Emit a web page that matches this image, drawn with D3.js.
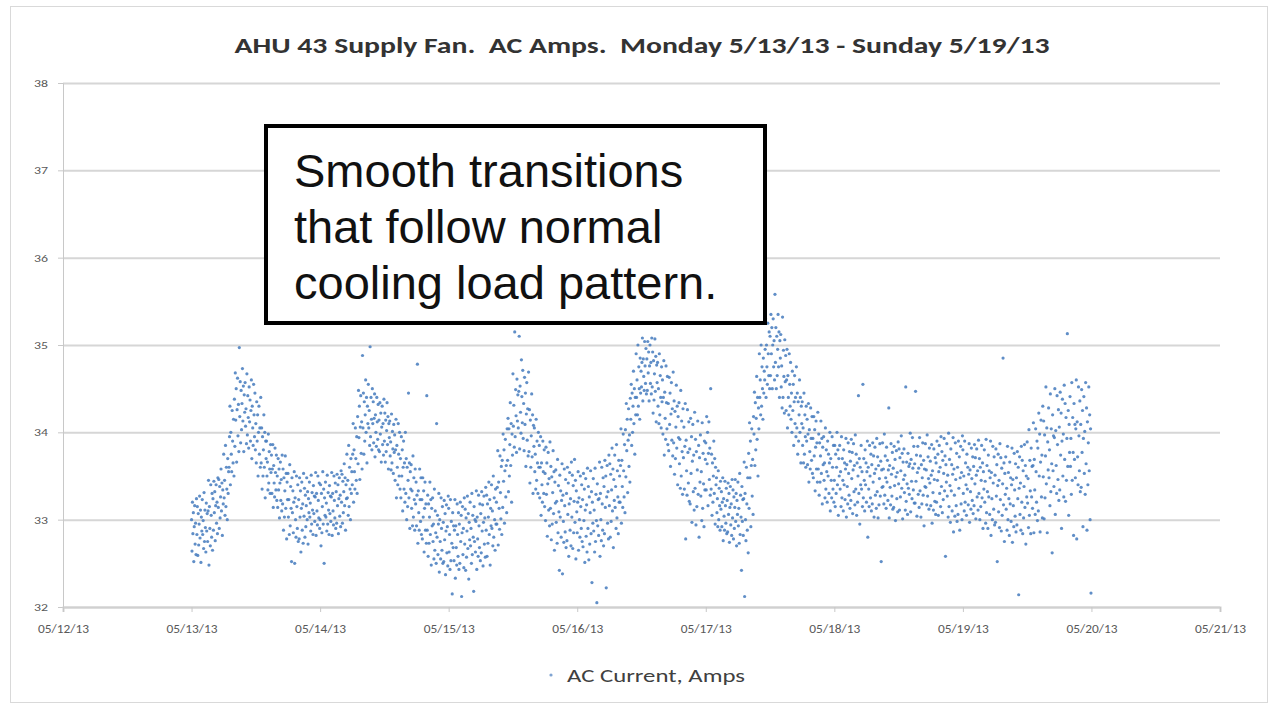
<!DOCTYPE html>
<html>
<head>
<meta charset="utf-8">
<script src="https://cdn.jsdelivr.net/npm/d3@7"></script>
<style>
  body { margin: 0; background: #fff; }
</style>
</head>
<body>
<div id="chart"></div>
<script>
// AC amps, one reading every 5 minutes, one row = one hour
const monday = [
  33.00, 32.64, 33.20, 32.84, 33.08, 32.52, 32.92, 33.16, 32.72, 32.96, 32.60, 33.24,
  32.83, 33.15, 32.59, 33.07, 32.71, 32.95, 33.27, 32.79, 33.11, 32.51, 33.03, 32.87,
  33.23, 32.83, 32.99, 32.67, 33.31, 32.75, 33.11, 32.91, 32.63, 33.19, 32.87, 33.07,
  32.75, 33.10, 33.45, 32.48, 33.15, 32.90, 32.70, 33.40, 33.05, 32.80, 33.30, 32.65,
  33.24, 32.88, 33.44, 33.08, 33.32, 32.76, 33.16, 33.40, 32.96, 33.20, 32.84, 33.48,
  33.14, 33.46, 32.90, 33.38, 33.02, 33.26, 33.58, 33.10, 33.42, 32.82, 33.34, 33.18,
  33.75, 33.25, 33.45, 33.05, 33.85, 33.15, 33.60, 33.35, 33.00, 33.70, 33.30, 33.55,
  33.60, 33.95, 34.30, 33.40, 34.00, 33.75, 33.55, 34.25, 33.90, 33.65, 34.15, 33.50,
  34.38, 33.84, 34.68, 34.14, 34.50, 33.66, 34.26, 34.62, 33.96, 34.32, 33.78, 34.97,
  34.18, 34.58, 33.88, 34.48, 34.03, 34.33, 34.73, 34.13, 34.53, 33.78, 34.43, 34.23,
  34.57, 34.07, 34.27, 33.87, 34.67, 33.97, 34.42, 34.17, 33.82, 34.52, 34.12, 34.37,
  33.90, 34.25, 34.60, 33.70, 34.30, 34.05, 33.85, 34.55, 34.20, 33.95, 34.45, 33.80,
  34.10, 33.65, 34.35, 33.90, 34.20, 33.50, 34.00, 34.30, 33.75, 34.05, 33.60, 34.40,
  33.65, 34.05, 33.35, 33.95, 33.50, 33.80, 34.20, 33.60, 34.00, 33.25, 33.90, 33.70,
  33.90, 33.50, 33.66, 33.34, 33.98, 33.42, 33.78, 33.58, 33.30, 33.86, 33.54, 33.74,
  33.30, 33.58, 33.86, 33.14, 33.62, 33.42, 33.26, 33.82, 33.54, 33.34, 33.74, 33.22,
  33.50, 33.14, 33.70, 33.34, 33.58, 33.02, 33.42, 33.66, 33.22, 33.46, 33.10, 33.74,
  33.18, 33.58, 32.88, 33.48, 33.03, 33.33, 33.73, 33.13, 33.53, 32.78, 33.43, 33.23,
  33.53, 33.03, 33.23, 32.83, 33.63, 32.93, 33.38, 33.13, 32.52, 33.48, 33.08, 33.33,
  32.85, 33.20, 33.55, 32.50, 33.25, 33.00, 32.80, 33.50, 33.15, 32.90, 33.40, 32.75,
  33.23, 32.78, 33.48, 33.03, 33.33, 32.63, 33.13, 33.43, 32.88, 33.18, 32.73, 33.53,
  33.04, 33.36, 32.80, 33.28, 32.92, 33.16, 33.48, 33.00, 33.32, 32.72, 33.24, 33.08,
  33.43, 33.03, 33.19, 32.87, 33.51, 32.95, 33.31, 33.11, 32.83, 33.39, 33.07, 33.27,
  32.98, 33.26, 33.54, 32.82, 33.30, 33.10, 32.94, 33.50, 33.22, 33.02, 33.42, 32.90
];
const tuesday = [
  33.00, 33.40, 32.70, 33.30, 32.85, 33.15, 33.55, 32.95, 33.35, 32.50, 33.25, 33.05,
  33.43, 33.03, 33.19, 32.87, 33.51, 32.95, 33.31, 33.11, 32.83, 33.39, 33.07, 33.27,
  32.98, 33.26, 33.54, 32.82, 33.30, 33.10, 32.94, 33.50, 33.22, 33.02, 33.42, 32.90,
  33.32, 32.96, 33.52, 33.16, 33.40, 32.84, 33.24, 33.48, 33.04, 33.28, 32.92, 33.56,
  33.20, 33.52, 32.96, 33.44, 33.08, 33.32, 33.64, 33.16, 33.48, 32.88, 33.40, 33.24,
  33.75, 33.25, 33.45, 33.05, 33.85, 33.15, 33.60, 33.35, 33.00, 33.70, 33.30, 33.55,
  33.40, 33.75, 34.10, 33.20, 33.80, 33.55, 33.35, 34.05, 33.70, 33.45, 33.95, 33.30,
  34.18, 33.64, 34.48, 33.94, 34.30, 33.46, 34.06, 34.42, 33.76, 34.12, 33.58, 34.88,
  34.05, 34.45, 33.75, 34.35, 33.90, 34.20, 34.60, 34.00, 34.40, 33.65, 34.30, 34.10,
  34.55, 34.05, 34.25, 33.85, 34.98, 33.95, 34.40, 34.15, 33.80, 34.50, 34.10, 34.35,
  33.88, 34.16, 34.44, 33.72, 34.20, 34.00, 33.84, 34.40, 34.12, 33.92, 34.32, 33.80,
  34.14, 33.78, 34.34, 33.98, 34.22, 33.66, 34.06, 34.30, 33.86, 34.10, 33.74, 34.38,
  33.90, 34.22, 33.66, 34.14, 33.78, 34.02, 34.34, 33.86, 34.18, 33.58, 34.10, 33.94,
  34.13, 33.73, 33.89, 33.57, 34.21, 33.65, 34.01, 33.81, 33.53, 34.09, 33.77, 33.97,
  33.45, 33.80, 34.15, 33.25, 33.85, 33.60, 33.40, 34.10, 33.75, 33.50, 34.00, 33.35,
  33.70, 33.25, 33.95, 33.50, 33.80, 33.10, 33.60, 33.90, 33.35, 33.65, 33.20, 34.00,
  33.30, 33.70, 33.00, 33.60, 33.15, 33.45, 34.45, 33.25, 33.65, 32.90, 33.55, 33.35,
  33.63, 33.13, 33.33, 32.93, 33.73, 33.03, 33.48, 33.23, 32.88, 33.58, 33.18, 33.43,
  32.93, 33.28, 34.78, 32.73, 33.33, 33.08, 32.88, 33.58, 33.23, 32.98, 33.48, 32.83,
  33.23, 32.78, 33.48, 33.03, 33.33, 32.63, 33.13, 33.43, 32.88, 33.18, 32.73, 34.42,
  32.88, 33.28, 32.58, 33.18, 32.73, 33.03, 33.43, 32.83, 33.23, 32.48, 33.13, 32.93,
  33.25, 32.75, 32.95, 32.55, 33.35, 32.65, 33.10, 32.85, 32.50, 34.10, 32.80, 33.05,
  32.60, 32.95, 33.30, 32.40, 33.00, 32.75, 32.55, 33.25, 32.90, 32.65, 33.15, 32.50,
  32.97, 32.52, 33.22, 32.77, 33.07, 32.37, 32.87, 33.17, 32.62, 32.92, 32.47, 33.27
];
const wednesday = [
  33.13, 32.63, 32.83, 32.43, 33.23, 32.53, 32.98, 32.73, 32.15, 33.08, 32.68, 32.93,
  32.53, 32.88, 33.23, 32.33, 32.93, 32.68, 32.48, 33.18, 32.83, 32.58, 33.08, 32.43,
  32.95, 32.50, 33.20, 32.75, 33.05, 32.12, 32.85, 33.15, 32.60, 32.90, 32.45, 33.25,
  32.72, 33.12, 32.42, 33.02, 32.57, 32.87, 33.27, 32.67, 33.07, 32.32, 32.97, 32.77,
  33.20, 32.70, 32.90, 32.50, 33.30, 32.60, 33.05, 32.80, 32.18, 33.15, 32.75, 33.00,
  32.63, 32.98, 33.33, 32.43, 33.03, 32.78, 32.58, 33.28, 32.93, 32.68, 33.18, 32.53,
  33.07, 32.62, 33.32, 32.87, 33.17, 32.47, 32.97, 33.27, 32.72, 33.02, 32.57, 33.37,
  32.88, 33.28, 32.58, 33.18, 32.73, 33.03, 33.43, 32.83, 33.23, 32.48, 33.13, 32.93,
  33.40, 32.90, 33.10, 32.70, 33.50, 32.80, 33.25, 33.00, 32.65, 33.35, 32.95, 33.20,
  32.95, 33.37, 33.79, 32.71, 33.43, 33.13, 32.89, 33.73, 33.31, 33.01, 33.61, 32.83,
  33.68, 33.14, 33.98, 33.44, 33.80, 32.96, 33.56, 33.92, 33.26, 33.62, 33.08, 34.04,
  33.68, 34.16, 33.32, 34.04, 33.50, 33.86, 34.34, 33.62, 34.10, 33.20, 33.98, 33.74,
  34.67, 34.07, 34.31, 33.83, 35.15, 33.95, 34.49, 34.19, 33.77, 34.61, 34.13, 34.43,
  34.05, 34.47, 35.10, 33.81, 34.53, 34.23, 33.99, 34.83, 34.41, 34.11, 34.71, 33.93,
  34.33, 33.79, 34.63, 34.09, 34.45, 33.61, 34.21, 34.57, 33.91, 34.27, 33.73, 34.69,
  33.78, 34.26, 33.42, 34.14, 33.60, 33.96, 34.44, 33.72, 34.20, 33.30, 34.08, 33.84,
  34.05, 33.55, 33.75, 33.35, 34.15, 33.45, 33.90, 33.65, 33.30, 34.00, 33.60, 33.85,
  33.25, 33.60, 33.95, 33.05, 33.65, 33.40, 33.20, 33.90, 33.55, 33.30, 33.80, 33.15,
  33.53, 32.99, 33.83, 33.29, 33.65, 32.81, 33.41, 33.77, 33.11, 33.47, 32.93, 33.89,
  33.13, 33.61, 32.77, 33.49, 32.95, 33.31, 33.79, 33.07, 33.55, 32.65, 33.43, 33.19,
  33.57, 32.97, 33.21, 32.73, 33.69, 32.85, 33.39, 33.09, 32.42, 33.51, 33.03, 33.33,
  32.80, 33.22, 33.64, 32.38, 33.28, 32.98, 32.74, 33.58, 33.16, 32.86, 33.46, 32.68,
  33.30, 32.76, 33.60, 33.06, 33.42, 32.58, 33.18, 33.54, 32.88, 33.24, 32.70, 33.66,
  33.03, 33.51, 32.67, 33.39, 32.85, 33.21, 33.69, 32.97, 33.45, 32.55, 33.33, 33.09
];
const thursday = [
  32.85, 33.20, 33.55, 32.65, 33.25, 33.00, 32.80, 33.50, 33.15, 32.90, 33.40, 32.75,
  33.23, 32.69, 33.53, 32.99, 33.35, 32.51, 33.11, 33.47, 32.81, 33.17, 32.63, 33.59,
  32.90, 33.38, 32.54, 33.26, 32.72, 33.08, 33.56, 32.84, 33.32, 32.28, 33.20, 32.96,
  33.47, 32.87, 33.11, 32.63, 33.59, 32.75, 33.29, 32.99, 32.05, 33.41, 32.93, 33.23,
  32.82, 33.24, 33.66, 32.58, 33.30, 33.00, 32.76, 33.60, 33.18, 32.88, 33.48, 32.70,
  33.38, 32.84, 33.68, 33.14, 33.50, 32.22, 33.26, 33.62, 32.96, 33.32, 32.78, 33.74,
  33.16, 33.64, 32.80, 33.52, 32.98, 33.34, 33.82, 33.10, 33.58, 32.68, 33.46, 33.22,
  33.74, 33.14, 33.38, 32.90, 33.86, 33.02, 33.56, 33.26, 32.84, 33.68, 33.20, 33.50,
  33.20, 33.62, 34.04, 32.96, 33.68, 33.38, 33.14, 33.98, 33.56, 33.26, 33.86, 33.08,
  34.03, 33.49, 34.33, 33.79, 34.15, 33.31, 33.91, 34.27, 33.61, 33.97, 33.43, 34.39,
  34.15, 34.55, 33.85, 34.45, 34.00, 34.30, 34.70, 34.10, 34.50, 33.75, 34.40, 34.20,
  34.90, 34.40, 34.60, 34.20, 35.00, 34.30, 34.75, 34.50, 34.15, 34.85, 34.45, 34.70,
  34.52, 34.80, 35.08, 34.36, 34.84, 34.64, 34.48, 35.04, 34.76, 34.56, 34.96, 34.44,
  34.84, 34.48, 35.04, 34.68, 34.92, 34.36, 34.76, 35.00, 34.56, 34.80, 34.44, 35.08,
  34.52, 34.92, 34.22, 34.82, 34.37, 34.67, 35.07, 34.47, 34.87, 34.12, 34.77, 34.57,
  34.80, 34.30, 34.50, 34.10, 34.90, 34.20, 34.65, 34.40, 34.05, 34.75, 34.35, 34.60,
  33.98, 34.40, 34.82, 33.74, 34.46, 34.16, 33.92, 34.76, 34.34, 34.04, 34.64, 33.86,
  34.33, 33.79, 34.63, 34.09, 34.45, 33.61, 34.21, 34.57, 33.91, 34.27, 33.73, 34.69,
  33.88, 34.36, 33.52, 34.24, 33.70, 34.06, 34.54, 33.82, 34.30, 33.40, 34.18, 33.94,
  34.34, 33.64, 33.92, 33.36, 34.48, 33.50, 34.13, 33.78, 33.29, 34.27, 33.71, 34.06,
  33.35, 33.84, 34.33, 32.78, 33.91, 33.56, 33.28, 34.26, 33.77, 33.42, 34.12, 33.21,
  33.81, 33.18, 34.16, 33.53, 33.95, 32.97, 33.67, 34.09, 33.32, 33.74, 33.11, 34.23,
  33.36, 33.92, 32.94, 33.78, 33.15, 33.57, 34.13, 33.29, 33.85, 32.80, 33.71, 33.43,
  33.97, 33.27, 33.55, 32.99, 34.11, 33.13, 33.76, 33.41, 32.92, 33.90, 33.34, 33.69
];
const friday = [
  33.88, 33.34, 34.18, 33.64, 34.00, 33.16, 33.76, 34.12, 33.46, 33.82, 33.28, 34.50,
  33.35, 33.75, 33.05, 33.65, 33.20, 33.50, 33.90, 33.30, 33.70, 32.95, 33.60, 33.40,
  33.48, 33.08, 33.24, 32.92, 33.56, 33.00, 33.36, 33.16, 32.88, 33.44, 33.12, 33.32,
  32.92, 33.20, 33.48, 32.76, 33.24, 33.04, 32.88, 33.44, 33.16, 32.96, 33.36, 32.84,
  33.22, 32.86, 33.42, 33.06, 33.30, 32.74, 33.14, 33.38, 32.94, 33.18, 32.82, 33.46,
  33.02, 33.34, 32.78, 33.26, 32.90, 33.14, 33.46, 32.98, 33.30, 32.70, 33.22, 33.06,
  33.43, 32.93, 33.13, 32.73, 33.53, 32.83, 33.28, 33.03, 32.42, 33.38, 32.98, 33.23,
  32.82, 33.24, 33.66, 32.12, 33.30, 33.00, 32.76, 33.60, 33.18, 32.88, 33.48, 32.62,
  33.76, 33.13, 34.11, 33.48, 33.90, 32.92, 33.62, 34.04, 33.27, 33.69, 33.06, 34.18,
  33.98, 34.46, 33.62, 34.34, 33.80, 34.16, 34.64, 33.92, 34.40, 33.50, 34.28, 34.04,
  34.90, 34.40, 34.60, 34.20, 35.00, 34.30, 34.75, 34.50, 34.15, 34.85, 34.45, 34.70,
  34.60, 34.95, 35.30, 34.40, 35.00, 34.75, 34.55, 35.25, 34.90, 34.65, 35.15, 34.50,
  35.10, 34.65, 35.35, 34.90, 35.20, 34.50, 35.00, 35.30, 34.75, 35.05, 34.60, 35.58,
  34.80, 35.20, 34.50, 35.10, 34.65, 34.95, 35.35, 34.75, 35.15, 34.40, 35.05, 34.85,
  35.12, 34.52, 34.76, 34.28, 35.32, 34.40, 34.94, 34.64, 34.22, 35.06, 34.58, 34.88,
  34.25, 34.60, 34.95, 34.05, 34.65, 34.40, 34.20, 34.90, 34.55, 34.30, 34.80, 34.15,
  34.45, 34.00, 34.70, 34.25, 34.55, 33.85, 34.35, 34.65, 34.10, 34.40, 33.95, 34.75,
  34.05, 34.45, 33.75, 34.35, 33.90, 34.20, 34.60, 34.00, 34.40, 33.65, 34.30, 34.10,
  34.35, 33.85, 34.05, 33.65, 34.45, 33.75, 34.20, 33.95, 33.60, 34.30, 33.90, 34.15,
  33.63, 33.98, 34.33, 33.43, 34.03, 33.78, 33.58, 34.28, 33.93, 33.68, 34.18, 33.53,
  33.93, 33.48, 34.18, 33.73, 34.03, 33.33, 33.83, 34.13, 33.58, 33.88, 33.43, 34.23,
  33.58, 33.98, 33.28, 33.88, 33.43, 33.73, 34.13, 33.53, 33.93, 33.18, 33.83, 33.63,
  33.95, 33.45, 33.65, 33.25, 34.05, 33.35, 33.80, 33.55, 33.20, 33.90, 33.50, 33.75,
  33.30, 33.65, 34.00, 33.10, 33.70, 33.45, 33.25, 33.95, 33.60, 33.35, 33.85, 33.20
];
const saturday = [
  33.45, 33.85, 33.15, 33.75, 33.30, 33.60, 34.00, 33.40, 33.80, 33.05, 33.70, 33.50,
  33.85, 33.35, 33.55, 33.15, 33.95, 33.25, 33.70, 33.45, 33.10, 33.80, 33.40, 33.65,
  33.23, 33.58, 33.93, 33.03, 33.63, 33.38, 33.18, 33.88, 33.53, 33.28, 33.78, 33.13,
  33.67, 33.22, 33.92, 33.47, 33.77, 33.07, 33.57, 33.87, 33.32, 33.62, 33.17, 33.97,
  33.35, 33.75, 33.05, 33.65, 33.20, 33.50, 34.42, 33.30, 33.70, 32.95, 33.60, 33.40,
  33.85, 33.35, 33.55, 33.15, 34.55, 33.25, 33.70, 33.45, 33.10, 33.80, 33.40, 33.65,
  33.20, 33.55, 33.90, 32.80, 33.60, 33.35, 33.15, 33.85, 33.50, 33.25, 33.75, 33.10,
  33.63, 33.18, 33.88, 33.43, 33.73, 33.03, 33.53, 33.83, 33.28, 33.58, 33.13, 33.93,
  33.32, 33.72, 33.02, 33.62, 33.17, 33.47, 33.87, 33.27, 33.67, 32.52, 33.57, 33.37,
  33.88, 33.38, 33.58, 33.18, 33.98, 33.28, 33.73, 33.48, 33.13, 33.83, 33.43, 33.68,
  33.22, 33.57, 34.28, 33.02, 33.62, 33.37, 33.17, 33.87, 33.52, 33.27, 33.77, 33.12,
  33.59, 33.14, 33.84, 33.39, 33.69, 32.99, 33.49, 33.79, 33.24, 33.54, 33.09, 33.89,
  33.41, 33.81, 33.11, 33.71, 33.26, 33.56, 33.96, 33.36, 33.76, 33.01, 33.66, 33.46,
  33.81, 33.31, 33.51, 33.11, 34.52, 33.21, 33.66, 33.41, 33.06, 33.76, 33.36, 33.61,
  33.29, 33.64, 33.99, 33.09, 33.69, 33.44, 33.24, 33.94, 33.59, 33.34, 33.84, 33.19,
  33.64, 33.19, 34.47, 33.44, 33.74, 33.04, 33.54, 33.84, 33.29, 33.59, 33.14, 33.94,
  33.33, 33.73, 33.03, 33.63, 33.18, 33.48, 33.88, 33.28, 33.68, 32.93, 33.58, 33.38,
  33.87, 33.37, 33.57, 33.17, 33.97, 33.27, 33.72, 33.47, 33.12, 33.82, 33.42, 33.67,
  33.16, 33.51, 33.86, 32.96, 33.56, 33.31, 33.11, 33.81, 33.46, 33.21, 33.71, 33.06,
  33.65, 33.20, 33.90, 33.45, 33.75, 33.05, 33.55, 33.85, 33.30, 33.60, 33.15, 33.95,
  33.38, 33.78, 33.08, 33.68, 33.23, 33.53, 33.93, 33.33, 33.73, 32.58, 33.63, 33.43,
  33.87, 33.27, 33.51, 33.03, 33.99, 33.15, 33.69, 33.39, 32.97, 33.81, 33.33, 33.63,
  33.10, 33.52, 33.94, 32.86, 33.58, 33.28, 33.04, 33.88, 33.46, 33.16, 33.76, 32.98,
  33.60, 33.06, 33.90, 33.36, 33.72, 32.88, 33.48, 33.84, 33.18, 33.54, 33.00, 33.96
];
const sunday = [
  33.80, 33.30, 33.50, 33.10, 33.90, 33.20, 33.65, 33.40, 33.05, 33.75, 33.35, 33.60,
  33.17, 33.52, 33.87, 32.97, 33.57, 33.32, 33.12, 33.82, 33.47, 33.22, 33.72, 33.07,
  33.61, 33.16, 33.86, 33.41, 33.71, 33.01, 33.51, 33.81, 33.26, 33.56, 33.11, 33.91,
  33.30, 33.70, 33.00, 33.60, 33.15, 33.45, 33.85, 33.25, 33.65, 32.90, 33.55, 33.35,
  33.80, 33.20, 33.44, 32.96, 33.92, 33.08, 33.62, 33.32, 32.90, 33.74, 33.26, 33.56,
  33.06, 33.48, 33.90, 32.82, 33.54, 33.24, 33.00, 33.84, 33.42, 33.12, 33.72, 32.94,
  33.51, 32.97, 33.81, 33.27, 33.63, 32.52, 33.39, 33.75, 33.09, 33.45, 32.91, 33.87,
  33.23, 33.71, 32.87, 33.59, 33.05, 33.41, 34.85, 33.17, 33.65, 32.75, 33.53, 33.29,
  33.72, 33.12, 33.36, 32.88, 33.84, 33.00, 33.54, 33.24, 32.82, 33.66, 33.18, 33.48,
  32.98, 33.40, 33.82, 32.74, 33.46, 33.16, 32.92, 33.76, 33.34, 33.04, 33.64, 32.86,
  33.48, 32.94, 33.78, 33.24, 33.60, 32.14, 33.36, 33.72, 33.06, 33.42, 32.88, 33.84,
  33.20, 33.68, 32.84, 33.56, 33.02, 33.38, 33.86, 33.14, 33.62, 32.72, 33.50, 33.26,
  33.89, 33.19, 33.47, 32.91, 34.03, 33.05, 33.68, 33.33, 32.84, 33.82, 33.26, 33.61,
  33.13, 33.62, 34.11, 32.85, 33.69, 33.34, 33.06, 34.04, 33.55, 33.20, 33.90, 32.99,
  33.82, 33.10, 34.22, 33.50, 33.98, 32.86, 33.66, 34.14, 33.26, 33.74, 33.02, 34.30,
  33.49, 34.13, 33.01, 33.97, 33.25, 33.73, 34.52, 33.41, 34.05, 32.85, 33.89, 33.57,
  34.28, 33.48, 33.80, 33.16, 34.44, 33.32, 34.04, 33.64, 32.62, 34.20, 33.56, 33.96,
  33.38, 33.94, 34.50, 33.06, 34.02, 33.62, 33.30, 34.42, 33.86, 33.46, 34.26, 33.22,
  34.06, 33.34, 34.46, 33.74, 34.22, 32.90, 33.90, 34.38, 33.50, 33.98, 33.26, 34.54,
  33.69, 34.33, 33.21, 34.17, 33.45, 33.93, 35.13, 33.61, 34.25, 33.05, 34.09, 33.77,
  34.41, 33.61, 33.93, 33.29, 34.57, 33.45, 34.17, 33.77, 32.82, 34.33, 33.69, 34.09,
  33.48, 34.04, 34.60, 32.78, 34.12, 33.72, 33.40, 34.52, 33.96, 33.56, 34.36, 33.32,
  34.09, 33.37, 34.49, 33.77, 34.25, 32.92, 33.93, 34.41, 33.53, 34.01, 33.29, 34.57,
  33.64, 34.28, 32.88, 34.12, 33.40, 33.88, 34.52, 33.56, 34.20, 33.00, 34.04, 32.16
];

const dayStarts = ["2013-05-13", "2013-05-14", "2013-05-15", "2013-05-16", "2013-05-17", "2013-05-18", "2013-05-19"];
const days = [monday, tuesday, wednesday, thursday, friday, saturday, sunday];
const sampleMinutes = 5;

const xTickDates = ["2013-05-12", "2013-05-13", "2013-05-14", "2013-05-15", "2013-05-16",
                    "2013-05-17", "2013-05-18", "2013-05-19", "2013-05-20", "2013-05-21"];
const xTickLabels = ["05/12/13", "05/13/13", "05/14/13", "05/15/13", "05/16/13",
                     "05/17/13", "05/18/13", "05/19/13", "05/20/13", "05/21/13"];
const yTicks = [32, 33, 34, 35, 36, 37, 38];

const titleText = "AHU 43 Supply Fan.  AC Amps.  Monday 5/13/13 - Sunday 5/19/13";
const seriesName = "AC Current, Amps";
const noteLines = ["Smooth transitions", "that follow normal", "cooling load pattern."];

const chartFont = "Carlito, Lato, 'Open Sans', sans-serif";
const dotColor = "#4a7ebf";

const chart = {width: 1270, height: 704, margin: {left: 63, right: 50, top: 83, bottom: 97}};
chart.innerWidth = chart.width - chart.margin.left - chart.margin.right;
chart.innerHeight = chart.height - chart.margin.top - chart.margin.bottom;

const parseDay = d3.utcParse("%Y-%m-%d");

// flatten the day arrays into timestamped points
const points = [];
days.forEach((vals, d) => {
    const start = parseDay(dayStarts[d]);
    vals.forEach((v, i) => {
        points.push({t: d3.utcMinute.offset(start, i * sampleMinutes), amps: v});
    });
});

const svg = d3.select("#chart")
    .append("svg")
    .attr("width", chart.width)
    .attr("height", chart.height);

// outer chart frame
svg.append("rect")
    .attr("x", 10.5).attr("y", 6.5)
    .attr("width", 1257).attr("height", 696)
    .attr("fill", "#fff")
    .attr("stroke", "#d9d9d9");

const g = svg.append("g")
    .attr("transform", `translate(${chart.margin.left}, ${chart.margin.top})`);

const x = d3.scaleUtc()
    .domain([parseDay(xTickDates[0]), parseDay(xTickDates[xTickDates.length - 1])])
    .range([0, chart.innerWidth]);

const y = d3.scaleLinear()
    .domain([32, 38])
    .range([chart.innerHeight, 0]);

// horizontal gridlines
g.append("g")
    .call(d3.axisLeft(y).tickValues(yTicks).tickSize(-chart.innerWidth).tickFormat(""))
    .call(s => s.select(".domain").remove())
    .call(s => s.selectAll("line").attr("stroke", "#d6d6d6").attr("stroke-width", 2));

// y axis
g.append("g")
    .call(d3.axisLeft(y).tickValues(yTicks).tickSize(5).tickPadding(10).tickFormat(d3.format("d")))
    .call(s => s.select(".domain").attr("stroke", "#c8c8c8"))
    .call(s => s.selectAll(".tick line").attr("stroke", "#c8c8c8"))
    .call(s => s.selectAll("text")
        .attr("fill", "#595959")
        .attr("textLength", 14)
        .attr("lengthAdjust", "spacingAndGlyphs")
        .style("font-family", chartFont)
        .style("font-size", "11px"));

// x axis
g.append("g")
    .attr("transform", `translate(0, ${chart.innerHeight})`)
    .call(d3.axisBottom(x).tickValues(xTickDates.map(parseDay)).tickSize(5).tickPadding(13)
        .tickFormat((d, i) => xTickLabels[i]))
    .call(s => s.select(".domain").attr("stroke", "#d0d0d0").attr("stroke-width", 2))
    .call(s => s.selectAll(".tick line").attr("stroke", "#c8c8c8"))
    .call(s => s.selectAll("text")
        .attr("fill", "#595959")
        .attr("textLength", 51)
        .attr("lengthAdjust", "spacingAndGlyphs")
        .style("font-family", chartFont)
        .style("font-size", "11.5px"));

// scatter points
g.append("g")
    .selectAll("circle")
    .data(points)
    .join("circle")
    .attr("cx", d => x(d.t))
    .attr("cy", d => y(d.amps))
    .attr("r", 1.6)
    .attr("fill", dotColor)
    .attr("fill-opacity", 0.88);

// title
svg.append("text")
    .attr("x", 642)
    .attr("y", 53)
    .attr("text-anchor", "middle")
    .attr("fill", "#333")
    .attr("textLength", 815)
    .attr("lengthAdjust", "spacingAndGlyphs")
    .style("font-family", chartFont)
    .style("font-size", "23px")
    .style("font-weight", "bold")
    .style("white-space", "pre")
    .text(titleText);

// legend
svg.append("circle")
    .attr("cx", 551).attr("cy", 675).attr("r", 1.6)
    .attr("fill", dotColor)
    .attr("fill-opacity", 0.7);
svg.append("text")
    .attr("x", 567)
    .attr("y", 682)
    .attr("fill", "#404040")
    .attr("textLength", 178)
    .attr("lengthAdjust", "spacingAndGlyphs")
    .style("font-family", chartFont)
    .style("font-size", "18px")
    .text(seriesName);

// callout box
const note = svg.append("g");
note.append("rect")
    .attr("x", 266).attr("y", 126)
    .attr("width", 499).attr("height", 197)
    .attr("fill", "#fff")
    .attr("stroke", "#000")
    .attr("stroke-width", 4);
note.selectAll("text")
    .data(noteLines)
    .join("text")
    .attr("x", 294)
    .attr("y", (d, i) => 187 + i * 56)
    .attr("fill", "#111")
    .style("font-family", "'Liberation Sans', Arial, sans-serif")
    .style("font-size", "47px")
    .text(d => d);
</script>
</body>
</html>
